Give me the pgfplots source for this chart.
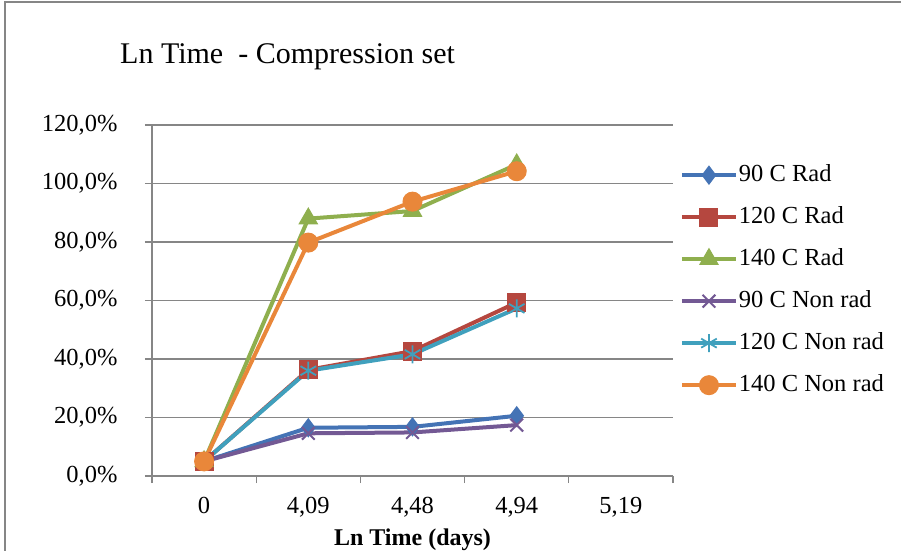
\documentclass[border=0pt]{standalone}
\usepackage{pgfplots}
\pgfplotsset{compat=1.18}
\usepackage{fontspec}
\setmainfont{Liberation Serif}
\definecolor{sblue}{HTML}{4473B5}
\definecolor{sred}{HTML}{B5473F}
\definecolor{sgreen}{HTML}{8FAF4E}
\definecolor{spurple}{HTML}{735994}
\definecolor{scyan}{HTML}{40A0BD}
\definecolor{sorange}{HTML}{E9873A}
\definecolor{axgray}{HTML}{868686}
\begin{document}
\begin{tikzpicture}[x=1pt,y=1pt]
\useasboundingbox (0,0) rectangle (901,-550);
\draw[axgray, line width=1.5pt] (5,-560) -- (5,-2) -- (910,-2);
\node[anchor=base west, inner sep=0pt, font=\fontsize{30}{35}\selectfont] at (120,-63) {Ln Time\ \ - Compression set};
\begin{axis}[
  at={(152pt,-476pt)}, anchor=south west, scale only axis,
  width=521pt, height=351pt,
  xmin=-0.5, xmax=4.5, ymin=0, ymax=120,
  axis x line*=bottom, axis y line*=left,
  axis line style={axgray, line width=1.2pt, -},
  xtick={0,1,2,3,4},
  xticklabels={0,{4,09},{4,48},{4,94},{5,19}},
  major x tick style={draw=none},
  minor xtick={-0.5,0.5,1.5,2.5,3.5,4.5},
  ytick={0,20,40,60,80,100,120},
  yticklabels={{0,0\%},{20,0\%},{40,0\%},{60,0\%},{80,0\%},{100,0\%},{120,0\%}},
  tick align=outside, major tick length=7pt, minor tick length=7pt,
  tick style={axgray, line width=1.2pt},
  ymajorgrids, grid style={axgray, line width=1.2pt},
  ticklabel style={font=\fontsize{24.5}{29}\selectfont, text=black},
  yticklabel style={xshift=-24pt},
  xticklabel style={yshift=-11pt},
  xlabel={\textbf{Ln Time (days)}},
  xlabel style={font=\fontsize{24}{28}\selectfont, yshift=-4pt},
  legend cell align=left,
  legend style={at={(1.013,0.889)}, anchor=north west, draw=none, fill=none,
    inner sep=0pt, row sep=20pt, font=\fontsize{24.5}{29}\selectfont,
    nodes={inner xsep=1pt, inner ysep=0pt, text height=17pt, text depth=5pt}},
  legend image code/.code={\draw[mark repeat=2,mark phase=2] plot coordinates {(0pt,0pt) (27pt,0pt) (54pt,0pt)};},
  every axis plot/.append style={line width=4pt},
]
\addplot[sblue, mark=diamond*, mark size=9, mark options={fill=sblue, line width=1pt}] coordinates {(0,5) (1,16.5) (2,16.8) (3,20.6)};
\addlegendentry{90 C Rad}
\addplot[sred, mark=square*, mark size=9, mark options={fill=sred, line width=1pt}] coordinates {(0,5) (1,36.3) (2,42.7) (3,59.3)};
\addlegendentry{120 C Rad}
\addplot[sgreen, mark=triangle*, mark size=10.5, mark options={fill=sgreen, line width=1pt}] coordinates {(0,5) (1,88) (2,90.6) (3,106.5)};
\addlegendentry{140 C Rad}
\addplot[spurple, mark=x, mark size=9, mark options={line width=2pt}] coordinates {(0,5) (1,14.6) (2,14.9) (3,17.4)};
\addlegendentry{90 C Non rad}
\addplot[scyan, mark=asterisk, mark size=9, mark options={line width=1.8pt}] coordinates {(0,5) (1,36) (2,41.6) (3,57.3)};
\addlegendentry{120 C Non rad}
\addplot[sorange, mark=*, mark size=9.5, mark options={fill=sorange, line width=1pt}] coordinates {(0,5) (1,79.8) (2,93.8) (3,104.2)};
\addlegendentry{140 C Non rad}
\end{axis}
\end{tikzpicture}
\end{document}
